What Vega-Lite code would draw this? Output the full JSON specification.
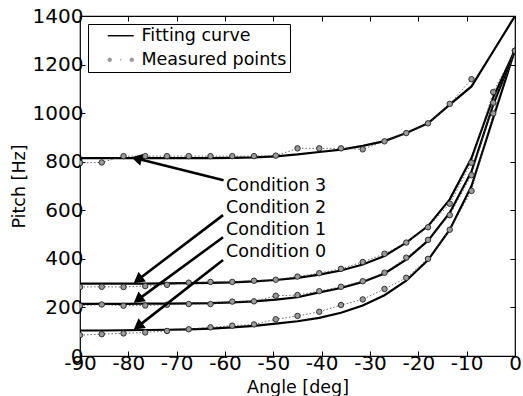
{
  "$schema": "https://vega.github.io/schema/vega-lite/v6.json",
  "width": 435,
  "height": 340,
  "autosize": "none",
  "padding": {"left": 80, "top": 16, "right": 8, "bottom": 40},
  "config": {
    "font": "DejaVu Sans",
    "view": {"stroke": "black", "strokeWidth": 1.2},
    "axis": {
      "domain": false,
      "grid": false,
      "tickColor": "black",
      "tickSize": -5,
      "tickWidth": 1,
      "labelColor": "black",
      "labelFontSize": 20,
      "labelPadding": 2,
      "labelOverlap": false,
      "labelBound": false,
      "labelFlush": false,
      "labelExpr": "'' + datum.value",
      "titleColor": "black",
      "titleFontSize": 17.5,
      "titleFontWeight": "normal"
    }
  },
  "datasets": {
    "d": [
      {"c": 0, "a": -90, "m": 86, "f": 105}, {"c": 0, "a": -85.5, "m": 90, "f": 105}, {"c": 0, "a": -81, "m": 93, "f": 106}, {"c": 0, "a": -76.5, "m": 97, "f": 107}, {"c": 0, "a": -72, "m": 103, "f": 108}, {"c": 0, "a": -67.5, "m": 110, "f": 110}, {"c": 0, "a": -63, "m": 118, "f": 113}, {"c": 0, "a": -58.5, "m": 125, "f": 118}, {"c": 0, "a": -54, "m": 130, "f": 124}, {"c": 0, "a": -49.5, "m": 151, "f": 133}, {"c": 0, "a": -45, "m": 165, "f": 143}, {"c": 0, "a": -40.5, "m": 182, "f": 157}, {"c": 0, "a": -36, "m": 210, "f": 178}, {"c": 0, "a": -31.5, "m": 233, "f": 208}, {"c": 0, "a": -27, "m": 276, "f": 250}, {"c": 0, "a": -22.5, "m": 322, "f": 310}, {"c": 0, "a": -18, "m": 400, "f": 395}, {"c": 0, "a": -13.5, "m": 520, "f": 520}, {"c": 0, "a": -9, "m": 680, "f": 700}, {"c": 0, "a": -4.5, "m": 999, "f": 980}, {"c": 0, "a": 0, "m": 1257, "f": 1260},
      {"c": 1, "a": -90, "m": 207, "f": 215}, {"c": 1, "a": -85.5, "m": 212, "f": 215}, {"c": 1, "a": -81, "m": 207, "f": 215}, {"c": 1, "a": -76.5, "m": 208, "f": 216}, {"c": 1, "a": -72, "m": 211, "f": 216}, {"c": 1, "a": -67.5, "m": 214, "f": 217}, {"c": 1, "a": -63, "m": 214, "f": 218}, {"c": 1, "a": -58.5, "m": 224, "f": 221}, {"c": 1, "a": -54, "m": 225, "f": 225}, {"c": 1, "a": -49.5, "m": 248, "f": 232}, {"c": 1, "a": -45, "m": 251, "f": 242}, {"c": 1, "a": -40.5, "m": 267, "f": 262}, {"c": 1, "a": -36, "m": 285, "f": 280}, {"c": 1, "a": -31.5, "m": 308, "f": 305}, {"c": 1, "a": -27, "m": 343, "f": 340}, {"c": 1, "a": -22.5, "m": 405, "f": 397}, {"c": 1, "a": -18, "m": 478, "f": 475}, {"c": 1, "a": -13.5, "m": 580, "f": 590}, {"c": 1, "a": -9, "m": 745, "f": 760}, {"c": 1, "a": -4.5, "m": 1043, "f": 1035}, {"c": 1, "a": 0, "m": 1257, "f": 1260},
      {"c": 2, "a": -90, "m": 284, "f": 298}, {"c": 2, "a": -85.5, "m": 285, "f": 298}, {"c": 2, "a": -81, "m": 284, "f": 298}, {"c": 2, "a": -76.5, "m": 288, "f": 298}, {"c": 2, "a": -72, "m": 293, "f": 299}, {"c": 2, "a": -67.5, "m": 302, "f": 300}, {"c": 2, "a": -63, "m": 305, "f": 301}, {"c": 2, "a": -58.5, "m": 305, "f": 303}, {"c": 2, "a": -54, "m": 310, "f": 307}, {"c": 2, "a": -49.5, "m": 314, "f": 313}, {"c": 2, "a": -45, "m": 327, "f": 322}, {"c": 2, "a": -40.5, "m": 341, "f": 335}, {"c": 2, "a": -36, "m": 359, "f": 352}, {"c": 2, "a": -31.5, "m": 387, "f": 377}, {"c": 2, "a": -27, "m": 421, "f": 412}, {"c": 2, "a": -22.5, "m": 467, "f": 467}, {"c": 2, "a": -18, "m": 530, "f": 535}, {"c": 2, "a": -13.5, "m": 627, "f": 645}, {"c": 2, "a": -9, "m": 796, "f": 815}, {"c": 2, "a": -4.5, "m": 1087, "f": 1065}, {"c": 2, "a": 0, "m": 1257, "f": 1260},
      {"c": 3, "a": -90, "m": 795, "f": 815}, {"c": 3, "a": -85.5, "m": 797, "f": 815}, {"c": 3, "a": -81, "m": 823, "f": 815}, {"c": 3, "a": -76.5, "m": 823, "f": 815}, {"c": 3, "a": -72, "m": 823, "f": 815}, {"c": 3, "a": -67.5, "m": 823, "f": 815}, {"c": 3, "a": -63, "m": 823, "f": 815}, {"c": 3, "a": -58.5, "m": 823, "f": 816}, {"c": 3, "a": -54, "m": 823, "f": 818}, {"c": 3, "a": -49.5, "m": 825, "f": 822}, {"c": 3, "a": -45, "m": 855, "f": 830}, {"c": 3, "a": -40.5, "m": 855, "f": 840}, {"c": 3, "a": -36, "m": 855, "f": 850}, {"c": 3, "a": -31.5, "m": 851, "f": 865}, {"c": 3, "a": -27, "m": 884, "f": 885}, {"c": 3, "a": -22.5, "m": 918, "f": 918}, {"c": 3, "a": -18, "m": 958, "f": 958}, {"c": 3, "a": -13.5, "m": 1038, "f": 1035}, {"c": 3, "a": -9, "m": 1140, "f": 1110}, {"c": 3, "a": -4.5, "m": null, "f": 1255}, {"c": 3, "a": 0, "m": null, "f": 1400}
    ],
    "arrows": [
      {"c": 3, "x": -60.3, "y": 724, "x2": -78.3, "y2": 813},
      {"c": 2, "x": -60.4, "y": 580, "x2": -78, "y2": 314},
      {"c": 1, "x": -60.4, "y": 489, "x2": -78, "y2": 232},
      {"c": 0, "x": -60.4, "y": 395, "x2": -78, "y2": 122}
    ],
    "labels": [
      {"t": "Condition 3", "x": -59.8, "y": 700},
      {"t": "Condition 2", "x": -59.8, "y": 608},
      {"t": "Condition 1", "x": -59.8, "y": 519},
      {"t": "Condition 0", "x": -59.8, "y": 429}
    ],
    "legend": [{"k": "Fitting curve"}, {"k": "Measured points"}]
  },
  "layer": [
    {
      "data": {"name": "d"},
      "mark": {"type": "line", "color": "black", "strokeWidth": 2.2, "clip": true},
      "encoding": {
        "x": {"field": "a", "type": "quantitative", "scale": {"domain": [-90, 0], "nice": false}, "axis": {"orient": "bottom", "values": [-90, -80, -70, -60, -50, -40, -30, -20, -10, 0], "title": "Angle [deg]", "titlePadding": 5.5}},
        "y": {"field": "f", "type": "quantitative", "scale": {"domain": [0, 1400], "nice": false}, "axis": {"orient": "left", "values": [0, 200, 400, 600, 800, 1000, 1200, 1400], "title": "Pitch [Hz]", "titlePadding": 4}},
        "detail": {"field": "c"}
      }
    },
    {
      "data": {"name": "d"},
      "transform": [{"filter": "datum.m != null"}],
      "mark": {"type": "line", "color": "#444", "strokeWidth": 0.8, "strokeDash": [1.5, 2], "clip": true},
      "encoding": {
        "x": {"field": "a", "type": "quantitative", "axis": {"orient": "top", "values": [-90, -80, -70, -60, -50, -40, -30, -20, -10, 0], "labels": false, "title": null}},
        "y": {"field": "m", "type": "quantitative", "axis": {"orient": "right", "values": [0, 200, 400, 600, 800, 1000, 1200, 1400], "labels": false, "title": null}},
        "detail": {"field": "c"}
      }
    },
    {
      "data": {"name": "d"},
      "transform": [{"filter": "datum.m != null"}],
      "mark": {"type": "point", "filled": true, "fill": "#9a9a9a", "stroke": "#222", "strokeWidth": 0.9, "opacity": 1, "size": 30, "clip": true},
      "encoding": {
        "x": {"field": "a", "type": "quantitative", "axis": null},
        "y": {"field": "m", "type": "quantitative", "axis": null}
      }
    },
    {
      "data": {"name": "arrows"},
      "mark": {"type": "rule", "color": "black", "strokeWidth": 2.6},
      "encoding": {
        "x": {"field": "x", "type": "quantitative", "axis": null},
        "y": {"field": "y", "type": "quantitative", "axis": null},
        "x2": {"field": "x2"},
        "y2": {"field": "y2"}
      }
    },
    {
      "data": {"name": "arrows"},
      "transform": [{"filter": "datum.c == 3"}],
      "mark": {"type": "point", "shape": "triangle-up", "filled": true, "color": "black", "opacity": 1, "size": 150, "angle": 284},
      "encoding": {
        "x": {"field": "x2", "type": "quantitative", "axis": null},
        "y": {"field": "y2", "type": "quantitative", "axis": null}
      }
    },
    {
      "data": {"name": "arrows"},
      "transform": [{"filter": "datum.c != 3"}],
      "mark": {"type": "point", "shape": "triangle-up", "filled": true, "color": "black", "opacity": 1, "size": 150, "angle": 233},
      "encoding": {
        "x": {"field": "x2", "type": "quantitative", "axis": null},
        "y": {"field": "y2", "type": "quantitative", "axis": null}
      }
    },
    {
      "data": {"name": "labels"},
      "mark": {"type": "text", "align": "left", "baseline": "middle", "fontSize": 17.5, "color": "black"},
      "encoding": {
        "x": {"field": "x", "type": "quantitative", "axis": null},
        "y": {"field": "y", "type": "quantitative", "axis": null},
        "text": {"field": "t"}
      }
    },
    {
      "data": {"name": "legend"},
      "transform": [{"filter": "false"}],
      "mark": {"type": "point", "filled": true, "stroke": "#222", "strokeWidth": 0.8, "opacity": 1, "size": 256},
      "encoding": {
        "fill": {
          "field": "k",
          "type": "nominal",
          "scale": {"domain": ["Fitting curve", "Measured points"], "range": ["black", "#9a9a9a"]},
          "legend": {
            "title": null,
            "orient": "none",
            "legendX": 8,
            "legendY": 8,
            "padding": 3,
            "strokeColor": "black",
            "fillColor": "white",
            "cornerRadius": 0,
            "symbolSize": 256,
            "symbolOffset": 21,
            "symbolStrokeColor": "#222",
            "symbolStrokeWidth": 0.8,
            "symbolOpacity": 1,
            "labelFontSize": 17.5,
            "labelColor": "black",
            "labelOffset": 12,
            "rowPadding": 5,
            "labelLimit": 300
          }
        },
        "shape": {
          "field": "k",
          "type": "nominal",
          "scale": {
            "domain": ["Fitting curve", "Measured points"],
            "range": [
              "M-1.625,-0.09L1.625,-0.09L1.625,0.09L-1.625,0.09Z",
              "M-1.655,0A0.28,0.28,0,1,1,-1.095,0A0.28,0.28,0,1,1,-1.655,0Z M1.095,0A0.28,0.28,0,1,1,1.655,0A0.28,0.28,0,1,1,1.095,0Z M-0.1,0A0.1,0.1,0,1,1,0.1,0A0.1,0.1,0,1,1,-0.1,0Z"
            ]
          },
          "legend": {
            "title": null,
            "orient": "none",
            "legendX": 8,
            "legendY": 8,
            "padding": 3,
            "strokeColor": "black",
            "fillColor": "white",
            "cornerRadius": 0,
            "symbolSize": 256,
            "symbolOffset": 21,
            "symbolStrokeColor": "#222",
            "symbolStrokeWidth": 0.8,
            "symbolOpacity": 1,
            "labelFontSize": 17.5,
            "labelColor": "black",
            "labelOffset": 12,
            "rowPadding": 5,
            "labelLimit": 300
          }
        }
      }
    }
  ],
  "resolve": {"axis": {"x": "independent", "y": "independent"}}
}
